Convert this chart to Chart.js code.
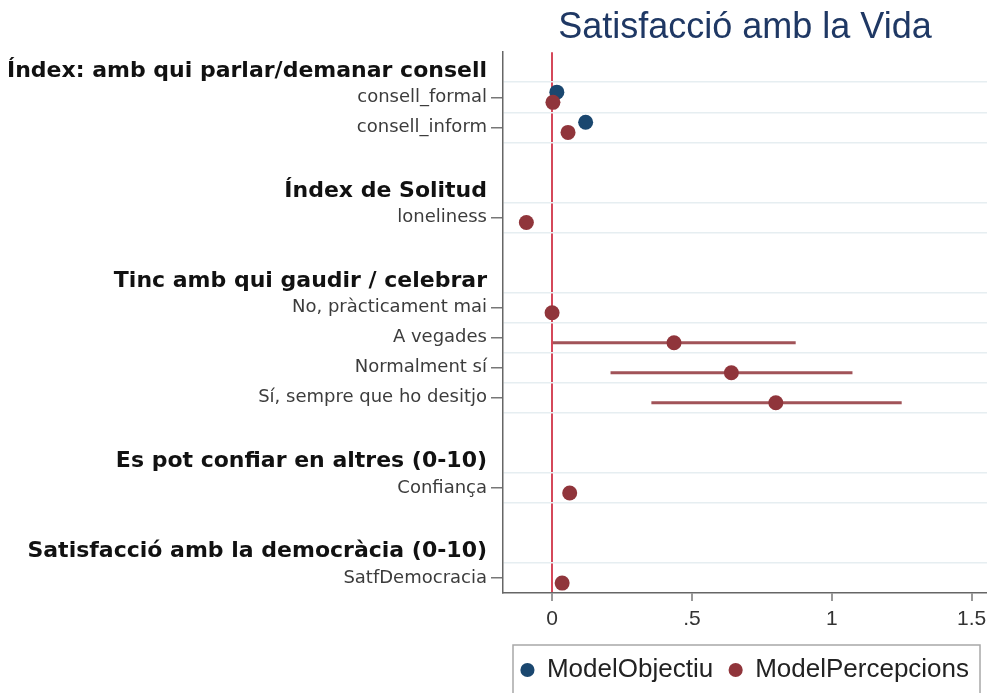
<!DOCTYPE html>
<html>
<head>
<meta charset="utf-8">
<script src="https://cdn.jsdelivr.net/npm/chart.js@4.4.1/dist/chart.umd.min.js"></script>
<style>
  html, body { margin: 0; padding: 0; background: #fff; }
</style>
</head>
<body>
<canvas id="coefPlot" width="987" height="693"></canvas>
<script>
// groups and their rows (top to bottom)
const groupHeaders = [
  "Índex: amb qui parlar/demanar consell",
  "Índex de Solitud",
  "Tinc amb qui gaudir / celebrar",
  "Es pot confiar en altres (0-10)",
  "Satisfacció amb la democràcia (0-10)"
];
const groupItems = [
  ["consell_formal", "consell_inform"],
  ["loneliness"],
  ["No, pràcticament mai", "A vegades", "Normalment sí", "Sí, sempre que ho desitjo"],
  ["Confiança"],
  ["SatfDemocracia"]
];

// estimates, in the same row order as groupItems flattened
const objectiuCoef = [0.017, 0.12, null, null, null, null, null, null, null];
const percepcionsCoef = [0.003, 0.057, -0.092, 0.0, 0.436, 0.641, 0.80, 0.063, 0.036];
const percepcionsLow = [null, null, null, null, 0.003, 0.209, 0.355, null, null];
const percepcionsHigh = [null, null, null, null, 0.871, 1.074, 1.250, null, null];

const xTickValues = [0, 0.5, 1, 1.5];
const xTickLabels = ["0", ".5", "1", "1.5"];

// build row slots: header, items, one empty slot between groups
const rowPos = [];
const yTicks = [];
let slot = 0;
groupHeaders.forEach((h, g) => {
  yTicks.push({ value: slot + 0.12, kind: "header", label: h });
  groupItems[g].forEach((name) => {
    slot++;
    rowPos.push(slot);
    yTicks.push({ value: slot, kind: "item", label: name });
  });
  slot += 2;
});
// light lines around every item row
const gridVals = [];
rowPos.forEach((p) => {
  [p - 0.5, p + 0.5].forEach((v) => {
    if (!gridVals.includes(v) && v < 17.5) gridVals.push(v);
  });
});
gridVals.forEach((v) => yTicks.push({ value: v, kind: "grid", label: "" }));
yTicks.sort((a, b) => a.value - b.value);

const blue = "#1a476f";
const red = "#90353b";
const off = 0.17;

const blueData = [];
const redData = [];
const ciData = [];
rowPos.forEach((p, i) => {
  if (objectiuCoef[i] !== null) blueData.push({ x: objectiuCoef[i], y: p - off });
  if (percepcionsCoef[i] !== null) redData.push({ x: percepcionsCoef[i], y: p + off });
  if (percepcionsLow[i] !== null) {
    ciData.push({ x: percepcionsLow[i], y: p + off });
    ciData.push({ x: percepcionsHigh[i], y: p + off });
    ciData.push({ x: percepcionsHigh[i], y: null }); // break the line
  }
});

const legendFrame = {
  id: "legendFrame",
  afterDraw(chart) {
    const l = chart.legend;
    const ctx = chart.ctx;
    ctx.save();
    ctx.strokeStyle = "#a8a8a8";
    ctx.lineWidth = 1.5;
    ctx.strokeRect(l.left + 10, l.top + 4, l.width - 17, l.height + 20);
    ctx.restore();
  }
};

const tickKind = (ctx) => (yTicks[ctx.index] ? yTicks[ctx.index].kind : "grid");

const config = {
  type: "scatter",
  data: {
    datasets: [
      {
        label: "ModelObjectiu",
        data: blueData,
        backgroundColor: blue,
        borderWidth: 0,
        pointRadius: 7.5,
        pointHoverRadius: 7.5,
        pointStyle: "circle",
        order: 1
      },
      {
        label: "ModelPercepcions",
        data: redData,
        backgroundColor: red,
        borderWidth: 0,
        pointRadius: 7.5,
        pointHoverRadius: 7.5,
        pointStyle: "circle",
        order: 0
      },
      {
        label: "CI",
        data: ciData,
        showLine: true,
        spanGaps: false,
        borderColor: "rgba(144, 53, 59, 0.85)",
        borderWidth: 3,
        pointRadius: 0,
        pointHoverRadius: 0,
        order: 2
      }
    ]
  },
  options: {
    responsive: false,
    animation: false,
    layout: { padding: 0, autoPadding: false },
    plugins: {
      title: {
        display: true,
        text: "Satisfacció amb la Vida",
        fullSize: false,
        color: "#1f3864",
        font: { family: "Liberation Sans, Arial, sans-serif", size: 36, weight: "normal" },
        padding: { top: 6, bottom: 3 }
      },
      legend: {
        position: "bottom",
        fullSize: false,
        labels: {
          usePointStyle: true,
          boxWidth: 13,
          boxHeight: 10,
          padding: 16,
          color: "#222",
          font: { family: "Liberation Sans, Arial, sans-serif", size: 26 },
          filter: (item) => item.datasetIndex < 2,
          sort: (a, b) => a.datasetIndex - b.datasetIndex
        }
      },
      tooltip: { enabled: false }
    },
    scales: {
      x: {
        type: "linear",
        min: -0.1755,
        max: 1.555,
        afterBuildTicks: (s) => { s.ticks = xTickValues.map((v) => ({ value: v })); },
        afterFit: (s) => { s.height = 48; s.paddingLeft = 0; s.paddingRight = 0; },
        ticks: {
          padding: 6,
          color: "#333",
          font: { family: "Liberation Sans, Arial, sans-serif", size: 21 },
          callback: (v, i) => xTickLabels[i]
        },
        grid: {
          color: (ctx) => (ctx.tick && ctx.tick.value === 0 ? "#d5485a" : "rgba(0,0,0,0)"),
          lineWidth: 2,
          tickLength: 8,
          tickColor: "#777",
          tickWidth: 1.5
        },
        border: { color: "#666", width: 1.5 }
      },
      y: {
        type: "linear",
        reverse: true,
        min: -0.5,
        max: 17.5,
        afterBuildTicks: (s) => { s.ticks = yTicks.map((t) => ({ value: t.value })); },
        afterFit: (s) => { s.width = 503; },
        ticks: {
          autoSkip: false,
          padding: 4,
          callback: (v, i) => yTicks[i].label,
          color: (ctx) => (tickKind(ctx) === "header" ? "#111" : "#3c3c3c"),
          font: (ctx) => (tickKind(ctx) === "header"
            ? { family: "DejaVu Sans", size: 22, weight: "bold" }
            : { family: "DejaVu Sans", size: 18 })
        },
        grid: {
          color: (ctx) => (tickKind(ctx) === "grid" ? "#e6eef1" : "rgba(0,0,0,0)"),
          lineWidth: 1.5,
          tickLength: 12,
          tickColor: (ctx) => (tickKind(ctx) === "item" ? "#777" : "rgba(0,0,0,0)"),
          tickWidth: 1.5
        },
        border: { color: "#666", width: 1.5 }
      }
    }
  },
  plugins: [legendFrame]
};

const myChart = new Chart(document.getElementById("coefPlot"), config);
</script>
</body>
</html>
